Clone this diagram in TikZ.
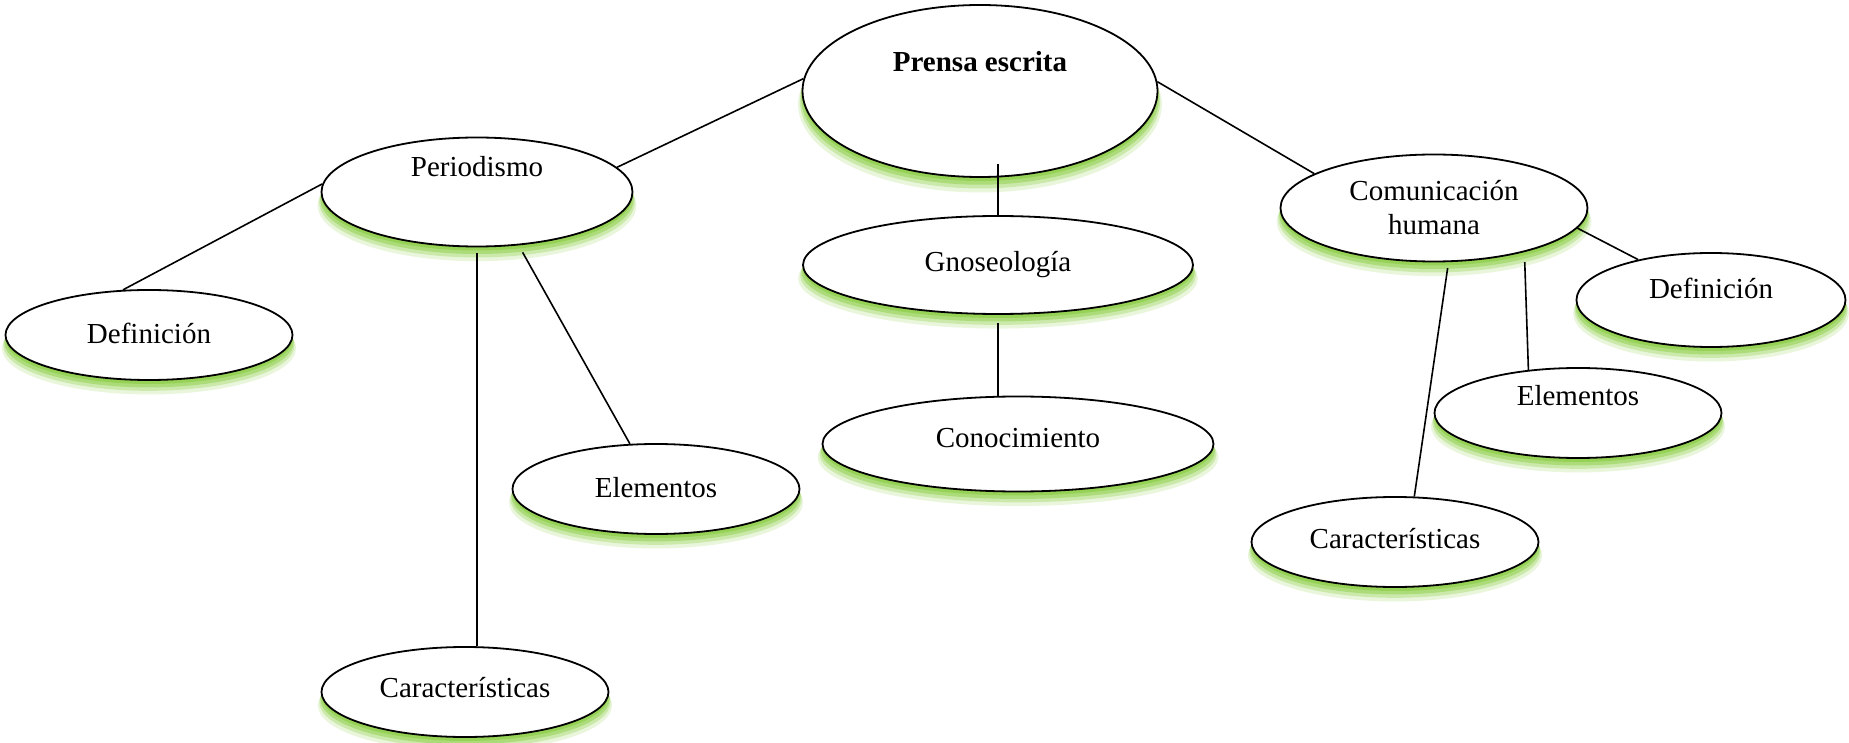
\documentclass[tikz,border=0pt]{standalone}
\usepackage{fontspec}
\setmainfont{Liberation Serif}
\usetikzlibrary{shapes.geometric,shadows}
\definecolor{glowgreen}{HTML}{92D050}

\begin{document}
\begin{tikzpicture}
  [x=0.5pt,y=-0.5pt,every node/.style={ellipse,draw,line width=0.9pt,fill=white,inner sep=0pt,
    font=\fontsize{14.5}{17}\selectfont,align=center,text height=10pt,text depth=1pt,
    drop shadow={shadow xshift=0pt,shadow yshift=-6.5pt,shadow scale=1.025,fill=glowgreen,opacity=.2},
    drop shadow={shadow xshift=0pt,shadow yshift=-5pt,shadow scale=1.015,fill=glowgreen,opacity=.35},
    drop shadow={shadow xshift=0pt,shadow yshift=-3.5pt,shadow scale=1.008,fill=glowgreen,opacity=.55},
    drop shadow={shadow xshift=0pt,shadow yshift=-2pt,fill=glowgreen,opacity=.85}}]
  \tikzstyle{leaf} = [minimum width=143.5pt,minimum height=45pt]
  \tikzstyle{link} = [line width=0.8pt]
  \useasboundingbox (0,0) rectangle (1849,743);

  \node[minimum width=177.5pt,minimum height=86pt,text depth=29pt,font=\fontsize{14.5}{17}\selectfont\bfseries] (prensa) at (980,91) {Prensa escrita};
  \node[minimum width=155.5pt,minimum height=54.5pt,text depth=25pt] (peri) at (477,192) {Periodismo};
  \node[leaf] (defL) at (149,335) {Definición};
  \node[leaf,text depth=2pt] (eleL) at (656,489) {Elementos};
  \node[leaf,text depth=5pt] (carL) at (465,692) {Características};
  \node[minimum width=195pt,minimum height=49pt,text depth=3pt] (gnos) at (998,265) {Gnoseología};
  \node[minimum width=195.5pt,minimum height=47.5pt,text depth=7pt] (cono) at (1018,444) {Conocimiento};
  \node[minimum width=153.5pt,minimum height=53.5pt,text height={},text depth={}] (comu) at (1434,208) {Comunicación\\humana};
  \node[minimum width=134.5pt,minimum height=47pt,text depth=11pt] (defR) at (1711,300) {Definición};
  \node[leaf,text depth=17pt] (eleR) at (1578,413) {Elementos};
  \node[leaf,text depth=4pt] (carR) at (1395,542) {Características};

  \foreach \source/\dest/\gap in {prensa.176/peri.10/0pt,prensa.3/comu.164/0pt,peri.177/defL.120/0pt,
      peri.-52/eleL.120/4pt,comu.-8/defR.151/0pt,comu.-26/eleR.139/5pt,comu.-75/carR.67/3pt}
    \draw[link,shorten <=\gap] (\source) -- (\dest);

  \draw[link,shorten >=-7pt] (gnos.north) -- (gnos.north |- prensa.south);
  \draw[link,shorten <=4pt] (gnos.south) -- (gnos.south |- cono.north);
  \draw[link,shorten <=3pt] (peri.south) -- (peri.south |- carL.north);
\end{tikzpicture}
\end{document}
